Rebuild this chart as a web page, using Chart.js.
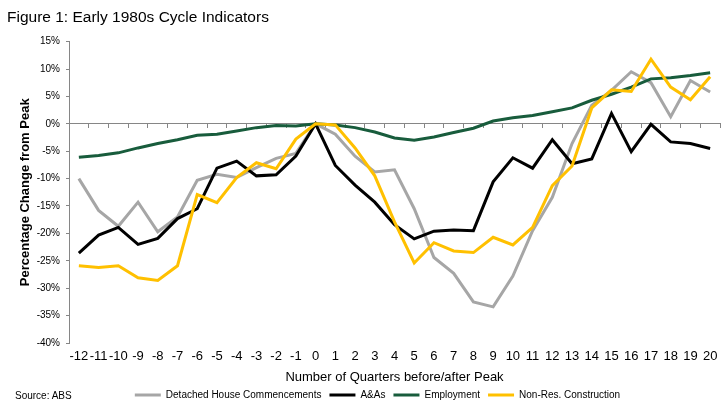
<!DOCTYPE html>
<html>
<head>
<meta charset="utf-8">
<script src="https://cdn.jsdelivr.net/npm/chart.js@4.4.1/dist/chart.umd.min.js"></script>
<style>
    body { margin: 0; background: #fff; }
    #wrap { position: relative; width: 726px; height: 410px; }
    #source { position: absolute; left: 15px; top: 390px; font: 10px "Liberation Sans", Arial, sans-serif; color: #000; }
</style>
</head>
<body>
<div id="wrap">
    <canvas id="cycleChart"></canvas>
    <div id="source">Source: ABS</div>
</div>
<script>
const quarters = ['-12', '-11', '-10', '-9', '-8', '-7', '-6', '-5', '-4', '-3', '-2', '-1', '0',
    '1', '2', '3', '4', '5', '6', '7', '8', '9', '10', '11', '12', '13', '14', '15', '16', '17', '18', '19', '20'];

const detachedHouse = [-10.0, -15.8, -18.7, -14.3, -19.7, -17.0, -10.3, -9.2, -9.8, -8.0, -6.3, -5.4, 0,
    -1.9, -5.9, -8.8, -8.4, -15.5, -24.4, -27.3, -32.5, -33.4, -27.8, -19.5, -13.4, -3.6, 3.4, 6.1, 9.5, 7.5, 1.3, 7.9, 5.8];

const alterations = [-23.6, -20.3, -18.9, -22.0, -20.9, -17.3, -15.5, -8.1, -6.8, -9.5, -9.3, -5.9, 0,
    -7.6, -11.2, -14.3, -18.4, -21.0, -19.6, -19.4, -19.5, -10.6, -6.2, -8.1, -2.9, -7.3, -6.4, 1.9, -5.1, -0.1, -3.3, -3.6, -4.5];

const employment = [-6.1, -5.8, -5.3, -4.4, -3.6, -2.9, -2.1, -1.9, -1.3, -0.7, -0.3, -0.4, 0,
    -0.2, -0.7, -1.5, -2.6, -3.0, -2.4, -1.6, -0.8, 0.5, 1.1, 1.5, 2.2, 2.9, 4.3, 5.4, 6.7, 8.2, 8.4, 8.8, 9.3];

const nonResConstruction = [-25.9, -26.2, -25.9, -28.1, -28.6, -25.9, -12.9, -14.4, -9.8, -7.1, -8.2, -2.8, 0,
    -0.2, -4.4, -9.5, -17.9, -25.4, -21.7, -23.2, -23.5, -20.7, -22.1, -18.9, -11.3, -7.7, 2.9, 6.2, 5.9, 11.8, 6.7, 4.4, 8.6];

const FONT = '"Liberation Sans", Arial, sans-serif';
const AXIS_GREY = '#868686';

// legend sits a little right of the canvas centre in the original
const shiftLegend = {
    id: 'shiftLegend',
    afterLayout(chart) {
        if (chart.legend) {
            chart.legend.left += 14;
            chart.legend.right += 14;
        }
    }
};

const ctx = document.getElementById('cycleChart').getContext('2d');
new Chart(ctx, {
    type: 'line',
    data: {
        labels: quarters,
        datasets: [
            { label: 'Detached House Commencements', data: detachedHouse, borderColor: '#A6A6A6', order: 3 },
            { label: 'A&As', data: alterations, borderColor: '#000000', order: 2 },
            { label: 'Employment', data: employment, borderColor: '#185C3C', order: 1 },
            { label: 'Non-Res. Construction', data: nonResConstruction, borderColor: '#FFC000', order: 0 }
        ]
    },
    options: {
        responsive: true,
        maintainAspectRatio: false,
        animation: false,
        layout: { padding: { left: 7, right: 6, top: 0, bottom: 0 } },
        elements: {
            line: { borderWidth: 3, tension: 0, fill: false },
            point: { radius: 0, hoverRadius: 0 }
        },
        scales: {
            x: {
                type: 'category',
                offset: true,
                grid: { display: false, drawTicks: false },
                border: { display: false },
                ticks: { color: '#000', font: { family: FONT, size: 13 }, padding: 6, maxRotation: 0, autoSkip: false },
                title: {
                    display: true,
                    text: 'Number of Quarters before/after Peak',
                    color: '#000',
                    font: { family: FONT, size: 13 },
                    padding: { top: 0, bottom: -3 }
                },
                afterFit(scale) { scale.height = 39; }
            },
            xZero: {
                type: 'category',
                position: { y: 0 },
                offset: true,
                grid: { drawOnChartArea: false, drawTicks: true, tickLength: 4, color: AXIS_GREY, offset: true },
                border: { display: true, color: AXIS_GREY, width: 1 },
                ticks: { display: false }
            },
            y: {
                min: -40,
                max: 15,
                ticks: {
                    stepSize: 5,
                    color: '#000',
                    font: { family: FONT, size: 10 },
                    padding: 6,
                    callback: v => v + '%'
                },
                grid: { drawOnChartArea: false, drawTicks: true, tickLength: 3, color: AXIS_GREY },
                border: { display: true, color: AXIS_GREY, width: 1 },
                title: {
                    display: true,
                    text: 'Percentage Change from Peak',
                    color: '#000',
                    font: { family: FONT, size: 13, weight: 'bold' },
                    padding: { top: 11, bottom: 0 }
                },
                afterFit(scale) { scale.width = 62; }
            }
        },
        plugins: {
            title: {
                display: true,
                text: 'Figure 1: Early 1980s Cycle Indicators',
                align: 'start',
                color: '#000',
                font: { family: FONT, size: 15.5, weight: 'normal' },
                padding: { top: 8, bottom: 15 }
            },
            legend: {
                position: 'bottom',
                labels: {
                    color: '#000',
                    font: { family: FONT, size: 10 },
                    boxWidth: 26,
                    boxHeight: 3,
                    padding: 8,
                    generateLabels: chart => chart.data.datasets.map((ds, i) => ({
                        text: ds.label,
                        fillStyle: ds.borderColor,
                        strokeStyle: ds.borderColor,
                        lineWidth: 0,
                        hidden: false,
                        datasetIndex: i,
                        fontColor: '#000'
                    }))
                }
            },
            tooltip: { enabled: false }
        }
    },
    plugins: [shiftLegend]
});
</script>
</body>
</html>
